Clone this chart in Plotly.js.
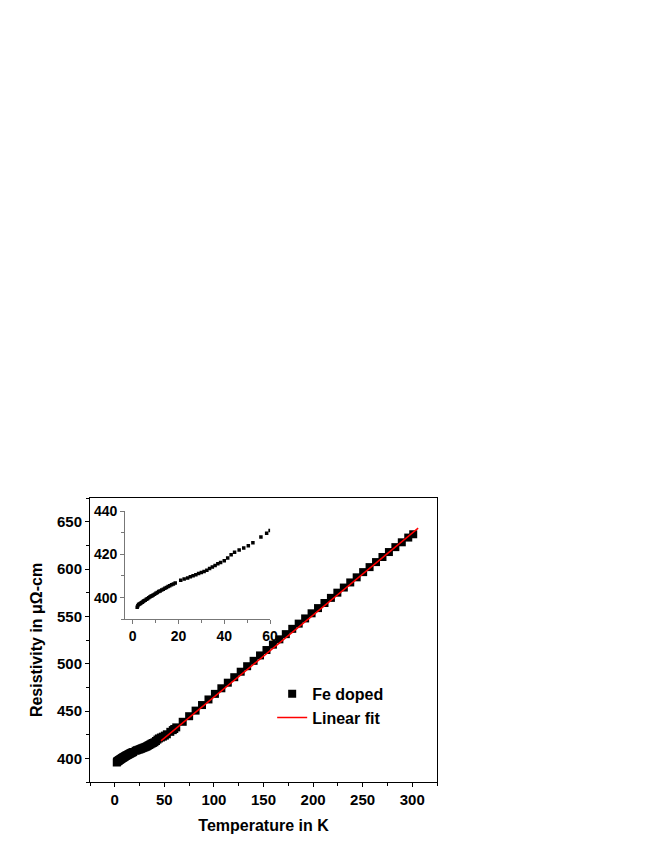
<!DOCTYPE html>
<html>
<head>
<meta charset="utf-8">
<script src="https://cdn.plot.ly/plotly-3.0.1.min.js"></script>
<style>
  body { margin: 0; background: #fff; }
  #chart { width: 654px; height: 846px; }
</style>
</head>
<body>
<div id="chart"></div>
<script>
// low temperature points (also shown in the inset)
var lowT = [2.0, 2.3, 2.6, 3.0, 3.4, 3.8, 4.2, 4.6, 5.0, 5.5, 6.0, 6.5, 7.0, 7.5, 8.0, 8.5, 9.0, 9.6,
  10.2, 10.8, 11.4, 12.0, 12.7, 13.4, 14.1, 14.8, 15.5, 16.2, 17.0, 17.8, 18.6, 21.0, 22.5, 24.0,
  25.2, 26.4, 27.6, 28.8, 30.0, 31.2, 32.4, 33.6, 34.8, 36.0, 37.2, 38.4, 40.0, 41.5, 43.0, 44.5,
  46.5, 48.5, 50.5, 52.5, 56.0, 58.5, 60.0];
var lowR = [395.6, 396.3, 396.8, 397.0, 397.3, 397.6, 397.9, 398.2, 398.5, 398.8, 399.2, 399.5, 399.9,
  400.3, 400.6, 400.9, 401.2, 401.6, 402.0, 402.4, 402.8, 403.1, 403.5, 403.9, 404.3, 404.7, 405.1,
  405.5, 405.9, 406.3, 406.7, 408.0, 408.6, 409.1, 409.6, 410.1, 410.6, 411.1, 411.6, 412.1, 412.7,
  413.4, 414.1, 414.9, 415.6, 416.2, 417.0, 418.3, 419.8, 421.0, 422.0, 422.9, 424.0, 425.4, 428.0,
  429.8, 431.0];

// higher temperature points
var highT = [62, 68.5, 75, 81.5, 88, 94.5, 101, 107.5, 114, 120.5, 127, 133.5, 140, 146.5, 153, 159.5,
  166, 172.5, 179, 185.5, 192, 198.5, 205, 211.5, 218, 224.5, 231, 237.5, 244, 250.5, 257, 263.5,
  270, 276.5, 283, 289.5, 296, 301];
var highR = [432.7, 438.6, 444.5, 450.4, 456.3, 462.2, 468.1, 474.0, 479.9, 485.7, 491.5, 497.3, 503.0,
  508.7, 514.4, 520.1, 525.7, 531.2, 536.8, 542.3, 547.8, 553.2, 558.7, 564.1, 569.5, 575.0, 580.4,
  585.8, 591.2, 596.7, 602.0, 607.3, 612.7, 617.9, 623.1, 628.2, 633.2, 636.7];

// linear fit end points
var fitT = [46.6, 306];
var fitR = [418.4, 643.2];

var allT = lowT.concat(highT);
var allR = lowR.concat(highR);

var fnt = 'Liberation Sans, Arial, sans-serif';

var trace1 = {
  x: allT, y: allR,
  type: 'scatter', mode: 'markers',
  name: 'Fe doped',
  marker: { symbol: 'square', size: 8, color: '#000' },
  xaxis: 'x', yaxis: 'y'
};

var trace2 = {
  x: fitT, y: fitR,
  type: 'scatter', mode: 'lines',
  name: 'Linear fit',
  line: { color: '#ff0000', width: 1.5 },
  xaxis: 'x', yaxis: 'y'
};

var trace3 = {
  x: lowT, y: lowR,
  type: 'scatter', mode: 'markers',
  showlegend: false,
  marker: { symbol: 'square', size: 3.5, color: '#000' },
  xaxis: 'x2', yaxis: 'y2'
};

var layout = {
  width: 654, height: 846,
  margin: { l: 90, r: 217, t: 498, b: 64 },
  paper_bgcolor: '#fff', plot_bgcolor: '#fff',
  font: { family: fnt, color: '#000' },
  showlegend: true,
  legend: {
    x: 0.525, y: 0.37, xanchor: 'left', yanchor: 'top',
    bgcolor: 'rgba(0,0,0,0)',
    font: { family: fnt, size: 16, weight: 'bold', color: '#000' },
    tracegroupgap: 0
  },
  xaxis: {
    range: [-25, 325],
    tickvals: [0, 50, 100, 150, 200, 250, 300],
    ticks: 'outside', ticklen: 4, tickwidth: 1, tickcolor: '#000',
    minor: { dtick: 25, tick0: 0, ticks: 'outside', ticklen: 3, tickcolor: '#000' },
    showline: true, linecolor: '#000', linewidth: 1, mirror: true,
    showgrid: false, zeroline: false,
    tickfont: { family: fnt, size: 15, weight: 'bold' },
    title: { text: 'Temperature in K', font: { family: fnt, size: 16, weight: 'bold' }, standoff: 12 }
  },
  yaxis: {
    range: [375, 675],
    tickvals: [400, 450, 500, 550, 600, 650],
    ticks: 'outside', ticklen: 4, tickwidth: 1, tickcolor: '#000',
    minor: { dtick: 25, tick0: 375, ticks: 'outside', ticklen: 3, tickcolor: '#000' },
    showline: true, linecolor: '#000', linewidth: 1, mirror: true,
    showgrid: false, zeroline: false,
    tickfont: { family: fnt, size: 15, weight: 'bold' },
    title: { text: 'Resistivity in μΩ-cm', font: { family: fnt, size: 16, weight: 'bold' }, standoff: 10 }
  },
  xaxis2: {
    domain: [0.101, 0.519], anchor: 'y2',
    range: [-3.3, 60],
    tickvals: [0, 20, 40, 60],
    ticks: 'outside', ticklen: 4, tickwidth: 1, tickcolor: '#777',
    minor: { dtick: 10, tick0: 0, ticks: 'outside', ticklen: 3, tickcolor: '#777' },
    showline: true, linecolor: '#777', linewidth: 1,
    showgrid: false, zeroline: false,
    tickfont: { family: fnt, size: 14, weight: 'bold' }
  },
  yaxis2: {
    domain: [0.573, 0.954], anchor: 'x2',
    range: [390, 440],
    tickvals: [400, 420, 440],
    ticks: 'outside', ticklen: 4, tickwidth: 1, tickcolor: '#777',
    minor: { dtick: 10, tick0: 390, ticks: 'outside', ticklen: 3, tickcolor: '#777' },
    showline: true, linecolor: '#777', linewidth: 1,
    showgrid: false, zeroline: false,
    tickfont: { family: fnt, size: 14, weight: 'bold' }
  }
};

Plotly.newPlot('chart', [trace1, trace2, trace3], layout, { displayModeBar: false, staticPlot: true });
</script>
</body>
</html>
